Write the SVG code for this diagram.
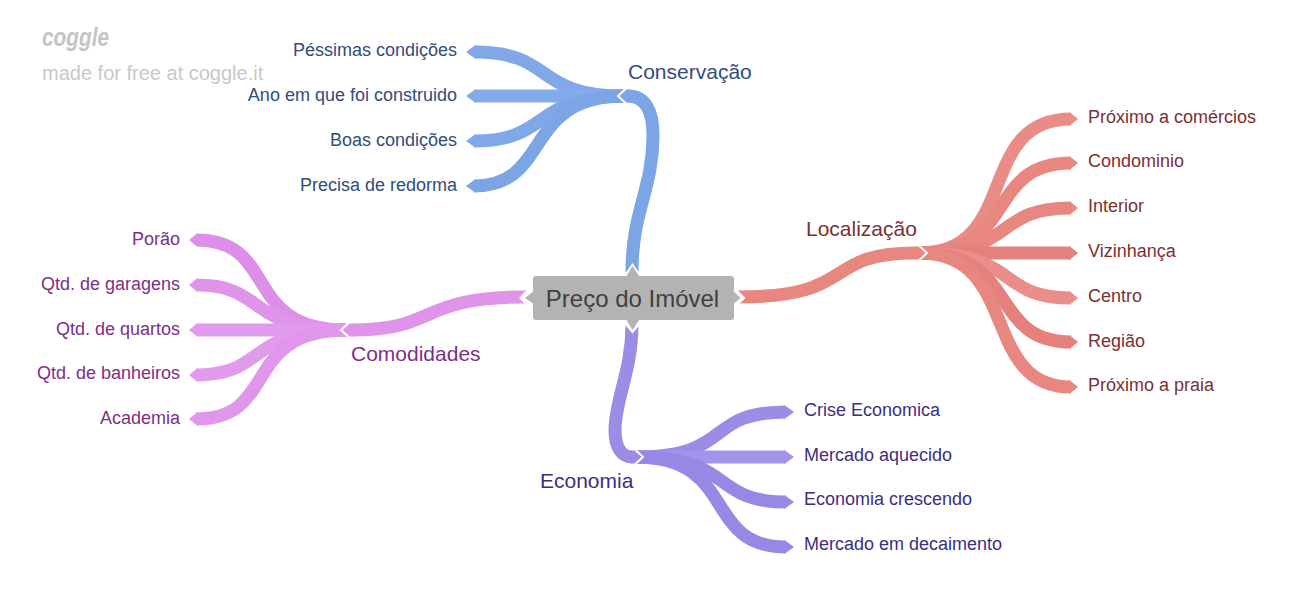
<svg xmlns="http://www.w3.org/2000/svg" width="1300" height="605" viewBox="0 0 1300 605">
<style>
text{font-family:"Liberation Sans",Arial,sans-serif}
.c{fill:none;stroke-width:13}
.h{fill:none;stroke:#fff;stroke-width:2}
.w{fill:#fff}
.b{stroke:#7ca5e6}.bf{fill:#7ca5e6}.bt{fill:#314c7e}
.r{stroke:#e88680}.rf{fill:#e88680}.rt{fill:#7c2f2f}
.p{stroke:#df94ea}.pf{fill:#df94ea}.pt{fill:#7d2f87}
.v{stroke:#9a8de6}.vf{fill:#9a8de6}.vt{fill:#3d2f80}
.l{font-size:18px}.m{font-size:21px}
</style>
<rect width="1300" height="605" fill="#fff"/>
<g id="connectors">
<g id="blue-leaves">
<path class="c b" d="M474 52C556 52 532 96 624 96" style="stroke:#80a8e8"/><polygon class="bf" style="fill:#80a8e8" points="475,45.500 466,52 475,58.500"/>
<path class="c b" d="M474 96H624" style="stroke:#84abe9"/><polygon class="bf" style="fill:#84abe9" points="475,89.500 466,96 475,102.500"/>
<path class="c b" d="M474 141C552 141 530 96 624 96" style="stroke:#80a8e8"/><polygon class="bf" style="fill:#80a8e8" points="475,134.500 466,141 475,147.500"/>
<path class="c b" d="M474 186C552 186 522 96 624 96"/><polygon class="bf" points="475,179.500 466,186 475,192.500"/>
</g>
<g id="red-leaves">
<path class="c r" d="M920 253C1020 253 975 119 1071 119" style="stroke:#e98c87"/><polygon class="rf" style="fill:#e98c87" points="1070,112.500 1078,119 1070,125.500"/>
<path class="c r" d="M920 253C1018 253 985 163 1071 163"/><polygon class="rf" points="1070,156.500 1078,163 1070,169.500"/>
<path class="c r" d="M920 253C1018 253 992 208 1071 208"/><polygon class="rf" points="1070,201.500 1078,208 1070,214.500"/>
<path class="c r" d="M920 253H1071" style="stroke:#e5817d"/><polygon class="rf" style="fill:#e5817d" points="1070,246.500 1078,253 1070,259.500"/>
<path class="c r" d="M920 253C1020 253 996 298 1071 298" style="stroke:#ea8e89"/><polygon class="rf" style="fill:#ea8e89" points="1070,291.500 1078,298 1070,304.500"/>
<path class="c r" d="M920 253C1020 253 988 342 1071 342" style="stroke:#e5807c"/><polygon class="rf" style="fill:#e5807c" points="1070,335.500 1078,342 1070,348.500"/>
<path class="c r" d="M920 253C1020 253 980 387 1071 387"/><polygon class="rf" points="1070,380.500 1078,387 1070,393.500"/>
</g>
<g id="purple-leaves">
<path class="c p" d="M347 330C240 330 280 240 196 240" style="stroke:#dc8ee8"/><polygon class="pf" style="fill:#dc8ee8" points="197,233.500 189,240 197,246.500"/>
<path class="c p" d="M347 330C244 330 268 285 196 285"/><polygon class="pf" points="197,278.500 189,285 197,291.500"/>
<path class="c p" d="M347 330H196" style="stroke:#e19bec"/><polygon class="pf" style="fill:#e19bec" points="197,323.500 189,330 197,336.500"/>
<path class="c p" d="M347 330C244 330 268 375 196 375" style="stroke:#e19aec"/><polygon class="pf" style="fill:#e19aec" points="197,368.500 189,375 197,381.500"/>
<path class="c p" d="M347 330C240 330 280 419 196 419" style="stroke:#e097eb"/><polygon class="pf" style="fill:#e097eb" points="197,412.500 189,419 197,425.500"/>
</g>
<g id="violet-leaves">
<path class="c v" d="M636 457C735 457 703 412 786 412"/><polygon class="vf" points="785,405.500 794,412 785,418.500"/>
<path class="c v" d="M636 457H786" style="stroke:#a095e8"/><polygon class="vf" style="fill:#a095e8" points="785,450.500 794,457 785,463.500"/>
<path class="c v" d="M636 457C735 457 710 502 786 502" style="stroke:#9688e5"/><polygon class="vf" style="fill:#9688e5" points="785,495.500 794,502 785,508.500"/>
<path class="c v" d="M636 457C738 457 702 547 786 547" style="stroke:#9688e5"/><polygon class="vf" style="fill:#9688e5" points="785,540.500 794,547 785,553.500"/>
</g>
<g id="main-branches">
<path class="c b" d="M632 272C632 210 653 190 653 135C653 110 645 96 628 96"/>
<polygon class="bf" points="630,89.500 626,89.500 620,96 626,102.500 630,102.500"/><polyline class="h" points="625,89.500 618,96 625,102.500"/>
<path class="c r" d="M738 297C860 297 820 253 916 253"/>
<polygon class="rf" points="915,246.500 919,246.500 925,253 919,259.500 915,259.500"/><polyline class="h" points="920,246.500 927,253 920,259.500"/>
<path class="c p" d="M527 297C415 297 440 330 352 330"/>
<polygon class="pf" points="353,323.500 349,323.500 343,330 349,336.500 353,336.500"/><polyline class="h" points="348,323.500 341,330 348,336.500"/>
<path class="c v" d="M632 325C632 370 615 400 615 430C615 448 622 457 632 457"/>
<polygon class="vf" points="631,450.500 635,450.500 641,457 635,463.500 631,463.500"/><polyline class="h" points="636,450.500 643,457 636,463.500"/>
</g>
</g>
<g id="watermark">
<text x="42" y="46" font-size="26" font-weight="bold" font-style="italic" fill="#c4c4c4" textLength="67" lengthAdjust="spacingAndGlyphs">coggle</text>
<text x="42" y="80" font-size="20" fill="#c8c8c8">made for free at coggle.it</text>
</g>
<g id="center">
<polygon class="w" points="526,290.500 519,298 526,305.500 534,305.500 534,290.500"/>
<polygon class="w" points="738,290.500 745.500,298 738,305.500 730,305.500 730,290.500"/>
<polygon class="w" points="625,274 632.500,263 640,274 640,280 625,280"/>
<polygon class="w" points="625,325 632.500,333.500 640,325 640,318 625,318"/>
<path d="M536 276H626.500L632.500 266L639 276H731Q734 276 734 279V291.700L740.700 298L734 303.500V317Q734 320 731 320H639L632.500 330L626.500 320H536Q533 320 533 317V303.500L525 298L533 291.700V279Q533 276 536 276Z" fill="#b3b3b3"/>
<text x="632.500" y="306.500" font-size="24" text-anchor="middle" fill="#404040">Preço do Imóvel</text>
</g>
<g id="conservacao"><text x="628" y="79" class="m bt">Conservação</text></g>
<g id="localizacao"><text x="806" y="236" class="m rt">Localização</text></g>
<g id="comodidades"><text x="351" y="361" class="m pt">Comodidades</text></g>
<g id="economia"><text x="540" y="488" class="m vt">Economia</text></g>
<g class="bt" text-anchor="end">
<g id="c1"><text x="457" y="56" class="l">Péssimas condições</text></g>
<g id="c2"><text x="457" y="101" class="l">Ano em que foi construido</text></g>
<g id="c3"><text x="457" y="146" class="l">Boas condições</text></g>
<g id="c4"><text x="457" y="191" class="l">Precisa de redorma</text></g>
</g>
<g class="rt">
<g id="l1"><text x="1088" y="123" class="l">Próximo a comércios</text></g>
<g id="l2"><text x="1088" y="167" class="l">Condominio</text></g>
<g id="l3"><text x="1088" y="212" class="l">Interior</text></g>
<g id="l4"><text x="1088" y="257" class="l">Vizinhança</text></g>
<g id="l5"><text x="1088" y="302" class="l">Centro</text></g>
<g id="l6"><text x="1088" y="347" class="l">Região</text></g>
<g id="l7"><text x="1088" y="391" class="l">Próximo a praia</text></g>
</g>
<g class="pt" text-anchor="end">
<g id="p1"><text x="180" y="245" class="l">Porão</text></g>
<g id="p2"><text x="180" y="290" class="l">Qtd. de garagens</text></g>
<g id="p3"><text x="180" y="335" class="l">Qtd. de quartos</text></g>
<g id="p4"><text x="180" y="379" class="l">Qtd. de banheiros</text></g>
<g id="p5"><text x="180" y="424" class="l">Academia</text></g>
</g>
<g class="vt">
<g id="e1"><text x="804" y="416" class="l">Crise Economica</text></g>
<g id="e2"><text x="804" y="461" class="l">Mercado aquecido</text></g>
<g id="e3"><text x="804" y="505" class="l">Economia crescendo</text></g>
<g id="e4"><text x="804" y="550" class="l">Mercado em decaimento</text></g>
</g>
</svg>
